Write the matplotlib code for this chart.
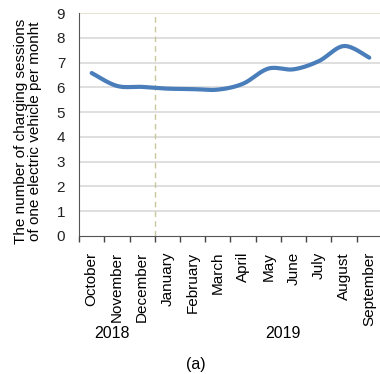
import numpy as np
import matplotlib
matplotlib.use("Agg")
import matplotlib.pyplot as plt

plt.rcParams['font.family'] = ['Liberation Sans', 'DejaVu Sans']

months = ["October", "November", "December", "January", "February", "March",
          "April", "May", "June", "July", "August", "September"]
sessions = [6.58, 6.06, 6.02, 5.95, 5.93, 5.91, 6.15, 6.76, 6.73, 7.06, 7.67, 7.20]
years = ["2018", "2019"]
y_ticks = [0, 1, 2, 3, 4, 5, 6, 7, 8, 9]


def smooth_curve(x, y, steps=30):
    """Cubic Bezier smoothing (Catmull-Rom style, tension 1/6)."""
    x = np.asarray(x, float)
    y = np.asarray(y, float)
    px = np.concatenate([[x[0]], x, [x[-1]]])
    py = np.concatenate([[y[0]], y, [y[-1]]])
    xs, ys = [], []
    t = np.linspace(0, 1, steps)
    for i in range(1, len(x)):
        p0 = np.array([px[i], py[i]])
        p3 = np.array([px[i + 1], py[i + 1]])
        c1 = p0 + (np.array([px[i + 1], py[i + 1]]) - np.array([px[i - 1], py[i - 1]])) / 6
        c2 = p3 - (np.array([px[i + 2], py[i + 2]]) - np.array([px[i], py[i]])) / 6
        b = ((1 - t) ** 3)[:, None] * p0 + (3 * (1 - t) ** 2 * t)[:, None] * c1 \
            + (3 * (1 - t) * t ** 2)[:, None] * c2 + (t ** 3)[:, None] * p3
        xs.append(b[:, 0])
        ys.append(b[:, 1])
    return np.concatenate(xs), np.concatenate(ys)


fig = plt.figure(figsize=(3.80, 3.74), dpi=100)
ax = fig.add_axes([0.208, 0.369, 0.797, 0.596])

x = np.arange(len(months))
sx, sy = smooth_curve(x, sessions)

for v in y_ticks[1:]:
    ax.axhline(v, color="#dcdcdc" if v < 9 else "#e4dfcf", lw=1.3, zorder=1)

ax.axvline(2.5, color="#c8c79a", lw=1.0, ls=(0, (4, 3)), zorder=1)
ax.plot(sx, sy, color="#4a7ebb", lw=3.0, solid_capstyle="round", zorder=3)

ax.set_xlim(-0.5, 11.5)
ax.set_ylim(0, 9)
ax.set_yticks(y_ticks)
ax.tick_params(axis="y", length=0, pad=10, labelsize=11, colors="#222222")

ax.set_xticks(x)
ax.set_xticklabels(months, rotation=90, fontsize=11)
ax.tick_params(axis="x", which="major", length=0, pad=11.5)
ax.set_xticks(np.arange(-0.5, 12, 1), minor=True)
ax.tick_params(axis="x", which="minor", length=4, width=1, direction="out", color="#444444")

for s in ["top", "right"]:
    ax.spines[s].set_visible(False)
ax.spines["left"].set_color("#555555")
ax.spines["bottom"].set_color("#555555")

ax.set_ylabel("The number of charging sessions\nof one electric vehicle per monht",
              fontsize=11, linespacing=1.0)
ax.yaxis.set_label_coords(-0.123, 0.47)

fig.text(112 / 380, 1 - 334 / 374, years[0], ha="center", va="center", fontsize=11.5)
fig.text(283 / 380, 1 - 334 / 374, years[1], ha="center", va="center", fontsize=11.5)
fig.text(196 / 380, 1 - 365 / 374, "(a)", ha="center", va="center", fontsize=11.5)

fig.savefig("out.png", dpi=100)
